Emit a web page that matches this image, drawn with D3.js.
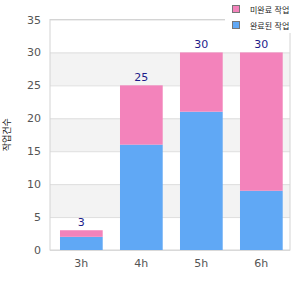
<!DOCTYPE html>
<html>
<head>
<meta charset="utf-8">
<script src="https://cdn.jsdelivr.net/npm/d3@7"></script>
<style>
  body { margin: 0; background: #fff; }
  text { font-family: "DejaVu Sans", "Noto Sans CJK KR", sans-serif; }
</style>
</head>
<body>
<div id="chart"></div>
<script>
/**
 * Data
 */
var categories = ["3h", "4h", "5h", "6h"];
var doneValues = [2, 16, 21, 9];
var leftValues = [1, 9, 9, 21];
var seriesNames = ["미완료 작업", "완료된 작업"];
var yTicks = [0, 5, 10, 15, 20, 25, 30, 35];
var yTitle = "작업건수";

/**
 * Globals
 */
const margin = { t: 19.5, r: 10, b: 50, l: 50 };
var width = 300;
var height = 300;
var w = width - margin.l - margin.r;
var h = height - margin.t - margin.b;

var color = { left: "#f383bb", done: "#60a8f5" };

var scale = {
  x: d3.scaleBand().domain(categories).range([0, w])
    .paddingInner(0.288).paddingOuter(0.144).align(0.578),
  y: d3.scaleLinear().domain([0, 35]).range([h, 0]),
};

var svg = d3
  .select("#chart")
  .append("svg")
  .attr("width", width)
  .attr("height", height);

var g = svg.append("g").attr("transform", "translate(" + margin.l + "," + margin.t + ")");

// alternating bands
for (var i = 0; i < yTicks.length - 1; i++) {
  if (i % 2 === 1) {
    g.append("rect")
      .attr("x", 0)
      .attr("y", scale.y(yTicks[i + 1]))
      .attr("width", w)
      .attr("height", scale.y(yTicks[i]) - scale.y(yTicks[i + 1]))
      .attr("fill", "#f3f3f3");
  }
}

// grid lines
g.append("g")
  .attr("class", "grid")
  .call(d3.axisLeft(scale.y).tickValues(yTicks).tickSize(-w).tickFormat(""))
  .call(function (s) {
    s.select(".domain").remove();
    s.selectAll("line").attr("stroke", "#dedede");
  });

// y axis labels
g.append("g")
  .call(d3.axisLeft(scale.y).tickValues(yTicks).tickSize(0).tickPadding(9))
  .call(function (s) {
    s.select(".domain").remove();
    s.selectAll("text").attr("fill", "#555").style("font-size", "11px");
  });

// x axis labels
g.append("g")
  .attr("transform", "translate(0," + h + ")")
  .call(d3.axisBottom(scale.x).tickSize(0).tickPadding(9))
  .call(function (s) {
    s.select(".domain").remove();
    s.selectAll("text").attr("fill", "#555").style("font-size", "11px");
  });

// frame
g.append("rect")
  .attr("x", 0)
  .attr("y", 0)
  .attr("width", w)
  .attr("height", h)
  .attr("fill", "none")
  .attr("stroke", "#d4d4d4");

// bars
var bars = g.selectAll(".bar").data(categories).enter().append("g").attr("class", "bar");

bars.append("rect")
  .attr("x", function (d) { return scale.x(d); })
  .attr("width", scale.x.bandwidth())
  .attr("y", function (d, i) { return scale.y(doneValues[i]); })
  .attr("height", function (d, i) { return scale.y(0) - scale.y(doneValues[i]); })
  .attr("fill", color.done);

bars.append("rect")
  .attr("x", function (d) { return scale.x(d); })
  .attr("width", scale.x.bandwidth())
  .attr("y", function (d, i) { return scale.y(doneValues[i] + leftValues[i]); })
  .attr("height", function (d, i) { return scale.y(doneValues[i]) - scale.y(doneValues[i] + leftValues[i]); })
  .attr("fill", color.left);

// total labels
bars.append("text")
  .attr("x", function (d) { return scale.x(d) + scale.x.bandwidth() / 2; })
  .attr("y", function (d, i) { return scale.y(doneValues[i] + leftValues[i]) - 4; })
  .attr("text-anchor", "middle")
  .attr("fill", "#1c1c8a")
  .style("font-size", "11px")
  .text(function (d, i) { return doneValues[i] + leftValues[i]; });

// y title
svg.append("text")
  .attr("transform", "translate(10," + (margin.t + h / 2) + ") rotate(-90)")
  .attr("text-anchor", "middle")
  .attr("fill", "#222")
  .style("font-size", "9px")
  .text(yTitle);

// legend
var legend = svg.append("g").attr("transform", "translate(225,0)");
legend.append("rect").attr("width", 75).attr("height", 33).attr("fill", "#fff");
[color.left, color.done].forEach(function (c, i) {
  legend.append("rect")
    .attr("x", 7.5)
    .attr("y", 5.5 + i * 16)
    .attr("width", 7)
    .attr("height", 7)
    .attr("fill", c)
    .attr("stroke", "#777");
  legend.append("text")
    .attr("x", 25)
    .attr("y", 12.5 + i * 16)
    .attr("fill", "#222")
    .style("font-size", "8px")
    .text(seriesNames[i]);
});
</script>
</body>
</html>
